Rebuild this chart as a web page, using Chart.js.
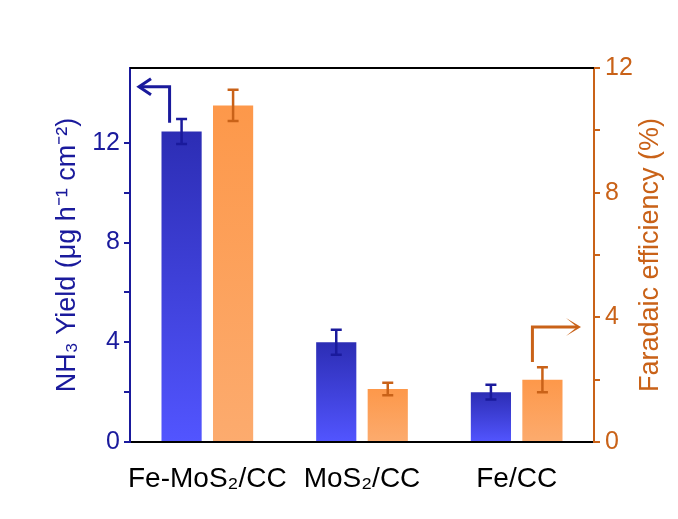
<!DOCTYPE html>
<html>
<head>
<meta charset="utf-8">
<script src="https://cdn.jsdelivr.net/npm/chart.js@4"></script>
<style>
body{margin:0;background:#fff;}
</style>
</head>
<body>
<canvas id="grafico" width="678" height="519"></canvas>
<script>

const categorias = ["Fe-MoS₂/CC", "MoS₂/CC", "Fe/CC"];

const rendimiento = [12.45, 4.0, 2.0];
const rendimientoErr = [0.5, 0.5, 0.3];

const eficiencia = [10.8, 1.7, 2.0];
const eficienciaErr = [0.5, 0.2, 0.4];

const ticksIzq = [0, 4, 8, 12];
const ticksDer = [0, 4, 8, 12];

// flechas: valores de inicio y fin en cada eje
const flechaAzul = [12.8, 14.25];
const flechaNaranja = [2.57, 3.69];

const azul = "#1a1a9c";
const naranja = "#c96218";

function degradado(ctx, arriba, abajo){
const chart = ctx.chart;
const area = chart.chartArea;
if(!area || ctx.type !== "data") return arriba;
const escala = chart.scales[ctx.dataset.yAxisID];
const yTop = escala.getPixelForValue(ctx.raw);
const g = chart.ctx.createLinearGradient(0, yTop, 0, area.bottom);
g.addColorStop(0, arriba);
g.addColorStop(1, abajo);
return g;
}

const barrasError = {
id:"barrasError",
afterDatasetsDraw(chart){
const c = chart.ctx;
const errores = [rendimientoErr, eficienciaErr];
const colores = [azul, naranja];
chart.data.datasets.forEach((ds, i)=>{
const meta = chart.getDatasetMeta(i);
const escala = chart.scales[ds.yAxisID];
c.save();
c.strokeStyle = colores[i];
c.lineWidth = 2.5;
meta.data.forEach((bar, j)=>{
const v = ds.data[j];
const e = errores[i][j];
const y1 = escala.getPixelForValue(v + e);
const y2 = escala.getPixelForValue(v - e);
c.beginPath();
c.moveTo(bar.x, y1); c.lineTo(bar.x, y2);
c.moveTo(bar.x - 5.5, y1); c.lineTo(bar.x + 5.5, y1);
c.moveTo(bar.x - 5.5, y2); c.lineTo(bar.x + 5.5, y2);
c.stroke();
});
c.restore();
});
}
};

const extras = {
id:"extras",
afterDraw(chart){
const c = chart.ctx;
const area = chart.chartArea;
const y = chart.scales.y;
const y1 = chart.scales.y1;

// borde superior
c.save();
c.strokeStyle = "#000";
c.lineWidth = 2;
c.beginPath();
c.moveTo(area.left, area.top);
c.lineTo(area.right, area.top);
c.stroke();

// flecha azul hacia el eje izquierdo
const b0 = chart.getDatasetMeta(0).data[0];
const xa = b0.x - 12;
const ya1 = y.getPixelForValue(flechaAzul[0]);
const ya2 = y.getPixelForValue(flechaAzul[1]);
c.strokeStyle = azul;
c.lineWidth = 3;
c.beginPath();
c.moveTo(xa, ya1);
c.lineTo(xa, ya2);
c.lineTo(area.left + 9, ya2);
c.stroke();
c.beginPath();
c.moveTo(area.left + 21, ya2 - 8);
c.lineTo(area.left + 9, ya2);
c.lineTo(area.left + 21, ya2 + 8);
c.stroke();

// flecha naranja hacia el eje derecho
const b2 = chart.getDatasetMeta(1).data[2];
const xn = b2.x - 10;
const yn1 = y1.getPixelForValue(flechaNaranja[0]);
const yn2 = y1.getPixelForValue(flechaNaranja[1]);
c.strokeStyle = naranja;
c.beginPath();
c.moveTo(xn, yn1);
c.lineTo(xn, yn2);
c.lineTo(area.right - 17, yn2);
c.stroke();
c.fillStyle = naranja;
c.beginPath();
c.moveTo(area.right - 17, yn2);
c.lineTo(area.right - 28, yn2 - 9);
c.lineTo(area.right - 13, yn2);
c.lineTo(area.right - 28, yn2 + 9);
c.closePath();
c.fill();

// titulo del eje derecho, leido de abajo hacia arriba
c.translate(658, (area.top + area.bottom) / 2);
c.rotate(-Math.PI / 2);
c.fillStyle = naranja;
c.font = "27px 'Liberation Sans', Arial, sans-serif";
c.textAlign = "center";
c.textBaseline = "alphabetic";
c.fillText("Faradaic efficiency (%)", 0, 0);
c.restore();
}
};

new Chart(document.getElementById("grafico"), {
type:"bar",
data:{
labels:categorias,
datasets:[
{
label:"NH3 Yield",
data:rendimiento,
yAxisID:"y",
backgroundColor:ctx => degradado(ctx, "#2c2db4", "#5255ff"),
barPercentage:0.78,
categoryPercentage:0.666
},
{
label:"Faradaic efficiency",
data:eficiencia,
yAxisID:"y1",
backgroundColor:ctx => degradado(ctx, "#fd984a", "#fcab6e"),
barPercentage:0.78,
categoryPercentage:0.666
}
]
},
options:{
responsive:false,
animation:false,
devicePixelRatio:1,
layout:{padding:{top:68, left:0, right:0, bottom:0}},
plugins:{
legend:{display:false},
tooltip:{enabled:false}
},
scales:{
x:{
grid:{display:false},
border:{display:true, color:"#000", width:2},
ticks:{
color:"#000",
padding:12,
autoSkip:false,
maxRotation:0,
minRotation:0,
font:{family:"'Liberation Sans', Arial, sans-serif", size:28}
},
afterFit(scale){ scale.height = 77; }
},
y:{
position:"left",
min:0,
max:15,
afterBuildTicks(scale){
scale.ticks = scale.ticks.filter(t => t.value % 2 === 0);
},
ticks:{
stepSize:2,
color:azul,
padding:4,
font:{family:"'Liberation Sans', Arial, sans-serif", size:25},
callback:v => ticksIzq.includes(v) ? v : ""
},
grid:{display:true, drawOnChartArea:false, drawTicks:true, tickLength:6, color:azul, lineWidth:2},
border:{display:true, color:azul, width:2},
title:{
display:true,
text:"NH₃ Yield (μg h⁻¹ cm⁻²)",
color:azul,
padding:{top:51, bottom:0},
font:{family:"'Liberation Sans', Arial, sans-serif", size:27}
},
afterFit(scale){ scale.width = 130; }
},
y1:{
position:"right",
min:0,
max:12,
afterBuildTicks(scale){
scale.ticks = scale.ticks.filter(t => t.value % 2 === 0);
},
ticks:{
stepSize:2,
color:naranja,
padding:5,
font:{family:"'Liberation Sans', Arial, sans-serif", size:25},
callback:v => ticksDer.includes(v) ? v : ""
},
grid:{display:true, drawOnChartArea:false, drawTicks:true, tickLength:6, color:naranja, lineWidth:2},
border:{display:true, color:naranja, width:2},
afterFit(scale){ scale.width = 84; }
}
}
},
plugins:[barrasError, extras]
});

</script>
</body>
</html>
